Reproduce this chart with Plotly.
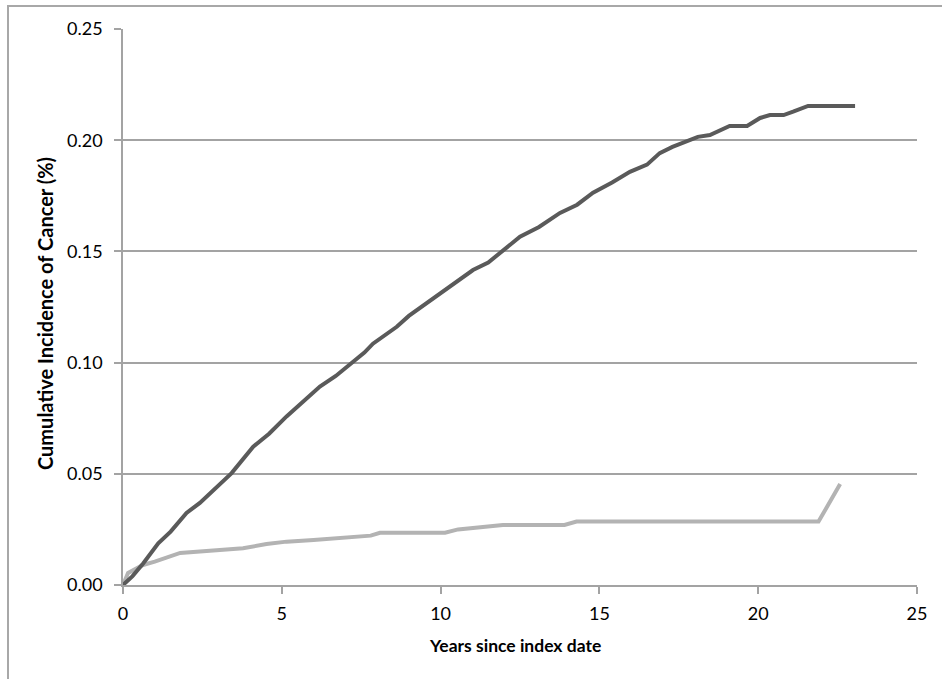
import plotly.graph_objects as go

# Data
dark_x = [0, 0.3, 0.64, 1.11, 1.5, 2.0, 2.42, 2.84, 3.42, 4.1, 4.6, 5.15, 5.7, 6.2, 6.7,
          7.25, 7.6, 7.87, 8.3, 8.62, 9.0, 9.35, 9.67, 10.3, 11.02, 11.5, 12.0, 12.5, 13.1,
          13.76, 14.3, 14.8, 15.4, 15.96, 16.5, 16.9, 17.3, 17.76, 18.1, 18.48, 19.1, 19.65,
          20.06, 20.37, 20.8, 21.1, 21.57, 23.05]
dark_y = [0, 0.004, 0.0098, 0.0187, 0.024, 0.0324, 0.0369, 0.0427, 0.0503, 0.0622, 0.068,
          0.0758, 0.083, 0.0892, 0.094, 0.1004, 0.1045, 0.1085, 0.113, 0.1161, 0.121, 0.1245,
          0.128, 0.134, 0.1416, 0.145, 0.151, 0.1566, 0.161, 0.1673, 0.171, 0.1764, 0.181,
          0.1858, 0.189, 0.1942, 0.197, 0.1998, 0.2015, 0.2023, 0.2064, 0.2064, 0.21, 0.2113,
          0.2113, 0.2128, 0.2154, 0.2154]

light_x = [0, 0.05, 0.16, 0.63, 1.0, 1.8, 2.74, 3.0, 3.78, 4.52, 5.15, 6.0, 7.15, 7.8, 8.09,
           10.14, 10.55, 11.4, 11.96, 13.9, 14.28, 21.9, 22.58]
light_y = [0, 0.002, 0.0054, 0.009, 0.0105, 0.0144, 0.0154, 0.0158, 0.0165, 0.0184, 0.0195,
           0.0202, 0.0214, 0.0222, 0.0235, 0.0235, 0.025, 0.026, 0.027, 0.027, 0.0285, 0.0285,
           0.0454]

x_ticks = [0, 5, 10, 15, 20, 25]
y_ticks = [0.00, 0.05, 0.10, 0.15, 0.20, 0.25]

W, H = 942, 679
L, R, T, B = 123, 25, 29, 94
pw, ph = W - L - R, H - T - B

def px(xpix):
    return (xpix - L) / pw

def py(ypix):
    return (H - B - ypix) / ph

FONT = "Lato, 'Open Sans', sans-serif"
GRID = "#a3a3a3"

fig = go.Figure()
fig.add_trace(go.Scatter(x=light_x, y=light_y, mode="lines",
                         line=dict(color="#b3b3b3", width=4), showlegend=False))
fig.add_trace(go.Scatter(x=dark_x, y=dark_y, mode="lines",
                         line=dict(color="#5a5a5a", width=4), showlegend=False))

fig.update_layout(
    width=W, height=H,
    margin=dict(l=L, r=R, t=T, b=B),
    paper_bgcolor="white", plot_bgcolor="white",
    font=dict(family=FONT, size=18, color="black"),
    xaxis=dict(range=[0, 25], tickvals=x_ticks, ticktext=[str(v) for v in x_ticks],
               showgrid=False, zeroline=False, showline=True, linecolor=GRID, linewidth=1.5,
               ticks="outside", ticklen=7, tickcolor=GRID, tickwidth=1.5,
               ticklabelstandoff=5),
    yaxis=dict(range=[0, 0.25], tickvals=y_ticks, ticktext=[f"{v:.2f}" for v in y_ticks],
               showgrid=True, gridcolor=GRID, gridwidth=1.5, zeroline=False,
               showline=True, linecolor=GRID, linewidth=1.5,
               ticks="outside", ticklen=7, tickcolor=GRID, tickwidth=1.5,
               ticklabelstandoff=8),
    annotations=[
        dict(text="<b>Cumulative Incidence of Cancer (%)</b>", xref="paper", yref="paper",
             x=px(45), y=py(314), textangle=-90, showarrow=False,
             xanchor="center", yanchor="middle", font=dict(size=20)),
        dict(text="<b>Years since index date</b>", xref="paper", yref="paper",
             x=px(515), y=py(645), showarrow=False,
             xanchor="center", yanchor="middle", font=dict(size=17.5)),
    ],
    shapes=[
        dict(type="rect", xref="paper", yref="paper",
             x0=px(8), x1=px(W + 20), y0=py(H + 20), y1=py(6),
             line=dict(color="#a8a8a8", width=2), fillcolor="rgba(0,0,0,0)", layer="below"),
    ],
)

fig.write_html("out.html", post_script="document.body.style.margin='0';",
               config={"displayModeBar": False})
